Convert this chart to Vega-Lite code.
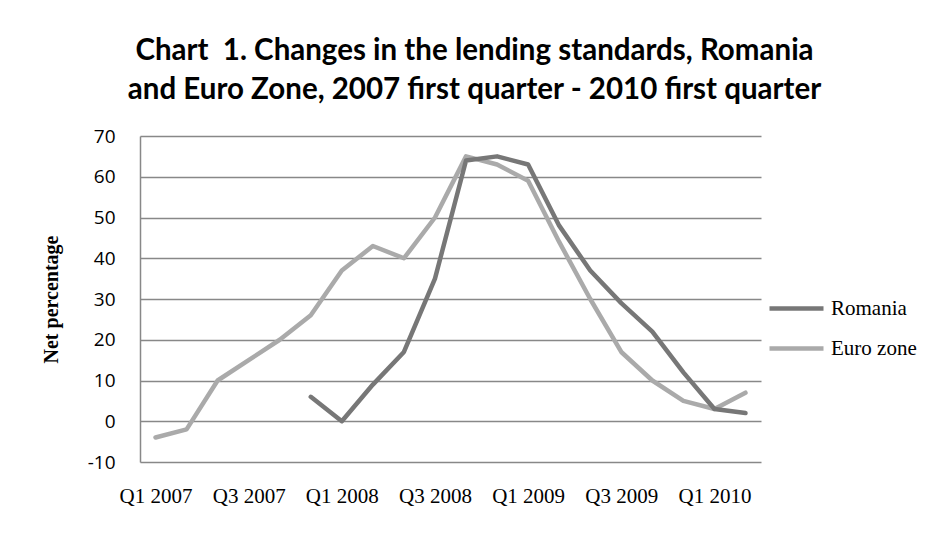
{
  "$schema": "https://vega.github.io/schema/vega-lite/v6.json",
  "autosize": {"type": "none"},
  "width": 621,
  "height": 326,
  "padding": {"left": 140, "top": 136, "right": 168, "bottom": 73},
  "background": "white",
  "title": {
    "text": ["Chart\u00a0 1. Changes in the lending standards, Romania", "and Euro Zone, 2007 first quarter - 2010 first quarter"],
    "font": "Lato",
    "fontWeight": "bold",
    "fontSize": 29.5,
    "lineHeight": 39,
    "color": "#000000",
    "anchor": "middle",
    "dx": 24,
    "offset": 22
  },
  "data": {
    "values": [
      {"obs": 0, "series": "Euro zone", "value": -4},
      {"obs": 1, "series": "Euro zone", "value": -2},
      {"obs": 2, "series": "Euro zone", "value": 10},
      {"obs": 3, "series": "Euro zone", "value": 15},
      {"obs": 4, "series": "Euro zone", "value": 20},
      {"obs": 5, "series": "Euro zone", "value": 26},
      {"obs": 6, "series": "Euro zone", "value": 37},
      {"obs": 7, "series": "Euro zone", "value": 43},
      {"obs": 8, "series": "Euro zone", "value": 40},
      {"obs": 9, "series": "Euro zone", "value": 50},
      {"obs": 10, "series": "Euro zone", "value": 65},
      {"obs": 11, "series": "Euro zone", "value": 63},
      {"obs": 12, "series": "Euro zone", "value": 59},
      {"obs": 13, "series": "Euro zone", "value": 44},
      {"obs": 14, "series": "Euro zone", "value": 30},
      {"obs": 15, "series": "Euro zone", "value": 17},
      {"obs": 16, "series": "Euro zone", "value": 10},
      {"obs": 17, "series": "Euro zone", "value": 5},
      {"obs": 18, "series": "Euro zone", "value": 3},
      {"obs": 19, "series": "Euro zone", "value": 7},
      {"obs": 5, "series": "Romania", "value": 6},
      {"obs": 6, "series": "Romania", "value": 0},
      {"obs": 7, "series": "Romania", "value": 9},
      {"obs": 8, "series": "Romania", "value": 17},
      {"obs": 9, "series": "Romania", "value": 35},
      {"obs": 10, "series": "Romania", "value": 64},
      {"obs": 11, "series": "Romania", "value": 65},
      {"obs": 12, "series": "Romania", "value": 63},
      {"obs": 13, "series": "Romania", "value": 48},
      {"obs": 14, "series": "Romania", "value": 37},
      {"obs": 15, "series": "Romania", "value": 29},
      {"obs": 16, "series": "Romania", "value": 22},
      {"obs": 17, "series": "Romania", "value": 12},
      {"obs": 18, "series": "Romania", "value": 3},
      {"obs": 19, "series": "Romania", "value": 2}
    ]
  },
  "mark": {"type": "line", "strokeWidth": 4.5, "strokeCap": "round", "strokeJoin": "round"},
  "encoding": {
    "x": {
      "field": "obs",
      "type": "quantitative",
      "scale": {"domain": [-0.5, 19.5], "nice": false, "zero": false},
      "axis": {
        "title": null,
        "values": [0, 3, 6, 9, 12, 15, 18],
        "labelExpr": "['Q1 2007','Q3 2007','Q1 2008','Q3 2008','Q1 2009','Q3 2009','Q1 2010'][datum.value / 3]",
        "grid": false,
        "ticks": false,
        "domain": false,
        "labelFont": "Liberation Serif",
        "labelFontSize": 21,
        "labelColor": "#000000",
        "labelPadding": 23,
        "labelFlush": false,
        "labelOverlap": false
      }
    },
    "y": {
      "field": "value",
      "type": "quantitative",
      "scale": {"domain": [-10, 70], "nice": false},
      "axis": {
        "title": "Net percentage",
        "titleFont": "Liberation Serif",
        "titleFontSize": 20,
        "titleFontWeight": "bold",
        "titleColor": "#000000",
        "titlePadding": 26,
        "values": [-10, 0, 10, 20, 30, 40, 50, 60, 70],
        "labelExpr": "'' + datum.value",
        "grid": true,
        "gridColor": "#888888",
        "gridWidth": 1.5,
        "gridOpacity": 1,
        "ticks": false,
        "domain": true,
        "domainColor": "#888888",
        "domainWidth": 1.5,
        "labelFont": "Open Sans",
        "labelFontSize": 19,
        "labelColor": "#000000",
        "labelPadding": 25
      }
    },
    "color": {
      "field": "series",
      "type": "nominal",
      "scale": {"domain": ["Romania", "Euro zone"], "range": ["#777777", "#aaaaaa"]},
      "legend": {
        "title": null,
        "orient": "none",
        "legendX": 627,
        "legendY": 143,
        "symbolType": "stroke",
        "symbolSize": 2916,
        "symbolStrokeWidth": 4.5,
        "labelFont": "Liberation Serif",
        "labelFontSize": 21,
        "labelColor": "#000000",
        "labelOffset": 5,
        "rowPadding": -14
      }
    }
  },
  "config": {
    "view": {"stroke": null}
  }
}
